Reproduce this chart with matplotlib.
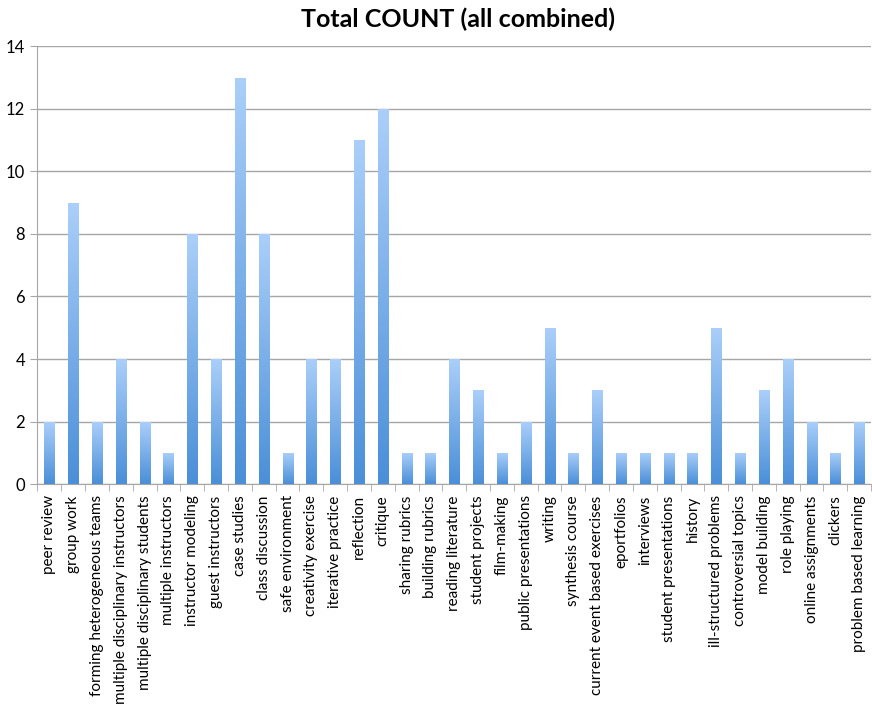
import numpy as np
import matplotlib.pyplot as plt
from matplotlib.colors import LinearSegmentedColormap

# categories and counts
categories = ["peer review", "group work", "forming heterogeneous teams",
              "multiple disciplinary instructors", "multiple disciplinary students",
              "multiple instructors", "instructor modeling", "guest instructors",
              "case studies", "class discussion", "safe environment",
              "creativity exercise", "iterative practice", "reflection", "critique",
              "sharing rubrics", "building rubrics", "reading literature",
              "student projects", "film-making", "public presentations", "writing",
              "synthesis course", "current event based exercises", "eportfolios",
              "interviews", "student presentations", "history",
              "ill-structured problems", "controversial topics", "model building",
              "role playing", "online assignments", "clickers",
              "problem based learning"]
counts = [2, 9, 2, 4, 2, 1, 8, 4, 13, 8, 1, 4, 4, 11, 12, 1, 1, 4, 3, 1, 2, 5,
          1, 3, 1, 1, 1, 1, 5, 1, 3, 4, 2, 1, 2]
y_ticks = [0, 2, 4, 6, 8, 10, 12, 14]

plt.rcParams['font.family'] = ['Lato', 'DejaVu Sans']

fig = plt.figure(figsize=(8.72, 7.12), dpi=100)
ax = fig.add_axes([0.043, 0.320, 0.956, 0.615])

x = np.arange(len(categories))
bars = ax.bar(x, counts, width=0.42, color='none', edgecolor='none', zorder=3)

# vertical gradient per bar, light at the top, darker at the base
cmap = LinearSegmentedColormap.from_list('bar', ['#4a8fd8', '#abcffa'])
grad = np.linspace(0, 1, 256).reshape(-1, 1)
for b in bars:
    x0, y0 = b.get_x(), b.get_y()
    w, h = b.get_width(), b.get_height()
    im = ax.imshow(grad, cmap=cmap, origin='lower', aspect='auto',
                   extent=[x0, x0 + w, y0, y0 + h], zorder=3)
    im.set_clip_path(b)

ax.set_xlim(-0.5, len(categories) - 0.5)
ax.set_ylim(0, 14)
ax.set_yticks(y_ticks)
ax.yaxis.grid(True, color='#a6a6a6', linewidth=1.0, zorder=0)
ax.set_axisbelow(True)

ax.set_xticks(x)
ax.set_xticklabels(categories, rotation=90, fontsize=11)
ax.set_xticks(np.arange(-0.5, len(categories), 1), minor=True)
ax.tick_params(axis='x', which='major', length=0, pad=8)
ax.tick_params(axis='x', which='minor', length=5, color='#a6a6a6', direction='out')
ax.tick_params(axis='y', length=5, color='#a6a6a6', labelsize=12, pad=4)

for s in ['top', 'right']:
    ax.spines[s].set_visible(False)
ax.spines['left'].set_color('#a6a6a6')
ax.spines['bottom'].set_color('#a6a6a6')

fig.suptitle("Total COUNT (all combined)", fontsize=18, fontweight='bold', x=0.525, y=0.99)

fig.savefig('out.png', dpi=100)
